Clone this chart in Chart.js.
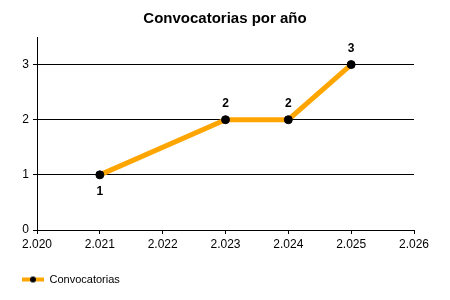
<!DOCTYPE html>
<html>
<head>
<meta charset="utf-8">
<script src="https://cdn.jsdelivr.net/npm/chart.js@4"></script>
<style>
  html, body { margin: 0; padding: 0; background: #fff; }
</style>
</head>
<body>
<canvas id="convocatoriasChart" width="450" height="300"></canvas>
<script>
// Datos de la grafica
var anios = [2021, 2023, 2024, 2025];
var convocatorias = [1, 2, 2, 3];
var rangoX = [2020, 2026];
var rangoY = [0, 3.5];

var naranja = '#FFA500';

Chart.defaults.font.family = '"Liberation Sans", Arial, sans-serif';
Chart.defaults.color = '#000';

// Marcador de la leyenda: linea naranja con punto negro
var marcador = document.createElement('canvas');
marcador.width = 22;
marcador.height = 8;
var m = marcador.getContext('2d');
m.fillStyle = naranja;
m.fillRect(0, 2, 22, 4);
m.fillStyle = '#000';
m.beginPath();
m.arc(11, 4, 3, 0, 2 * Math.PI);
m.fill();

// 2020 -> "2.020"
function formatoMiles(v) {
    return String(v).replace(/\B(?=(\d{3})+$)/, '.');
}

// Etiquetas con el valor junto a cada punto
var etiquetas = {
    id: 'etiquetas',
    afterDatasetsDraw: function (chart) {
        var ctx = chart.ctx;
        var meta = chart.getDatasetMeta(0);
        ctx.save();
        ctx.font = 'bold 12px "Liberation Sans", Arial, sans-serif';
        ctx.fillStyle = '#000';
        ctx.textAlign = 'center';
        ctx.textBaseline = 'middle';
        meta.data.forEach(function (pt, i) {
            var dy = i === 0 ? 17 : -16;  // el primero va debajo
            ctx.fillText(convocatorias[i], pt.x, pt.y + dy);
        });
        ctx.restore();
    }
};

var ctx = document.getElementById('convocatoriasChart').getContext('2d');

new Chart(ctx, {
    type: 'line',
    data: {
        datasets: [{
            label: 'Convocatorias',
            data: anios.map(function (a, i) { return { x: a, y: convocatorias[i] }; }),
            borderColor: naranja,
            borderWidth: 5,
            pointRadius: 4,
            pointBorderWidth: 1,
            pointBackgroundColor: '#000',
            pointBorderColor: '#000',
            tension: 0,
            fill: false
        }]
    },
    options: {
        responsive: false,
        animation: false,
        // padding simetrico para que el titulo quede centrado en el lienzo
        layout: { padding: { left: 12, right: 12, top: 0, bottom: 5 } },
        plugins: {
            title: {
                display: true,
                text: 'Convocatorias por año',
                font: { size: 15, weight: 'bold' },
                color: '#000',
                padding: { top: 10, bottom: 9 }
            },
            legend: {
                position: 'bottom',
                align: 'start',
                labels: {
                    usePointStyle: true,
                    pointStyle: marcador,
                    pointStyleWidth: 22,
                    font: { size: 11 },
                    color: '#000',
                    padding: 10
                }
            },
            tooltip: { enabled: false }
        },
        scales: {
            x: {
                type: 'linear',
                min: rangoX[0],
                max: rangoX[1],
                ticks: { stepSize: 1, callback: formatoMiles, font: { size: 12 }, padding: 3, maxRotation: 0 },
                grid: { drawOnChartArea: false, drawTicks: true, tickLength: 4, color: '#000' },
                border: { color: '#000', width: 1 },
                afterFit: function (s) { s.height = 34; }
            },
            y: {
                min: rangoY[0],
                max: rangoY[1],
                ticks: { stepSize: 1, includeBounds: false, font: { size: 12 }, padding: 4 },
                grid: { color: '#000', tickLength: 4 },
                border: { color: '#000', width: 1 },
                afterFit: function (s) { s.width = 25; }
            },
            // eje vacio a la derecha, solo reserva margen
            margenDerecho: {
                position: 'right',
                min: rangoY[0],
                max: rangoY[1],
                ticks: { display: false },
                grid: { display: false },
                border: { display: false },
                afterFit: function (s) { s.width = 24; }
            }
        }
    },
    plugins: [etiquetas]
});
</script>
</body>
</html>
